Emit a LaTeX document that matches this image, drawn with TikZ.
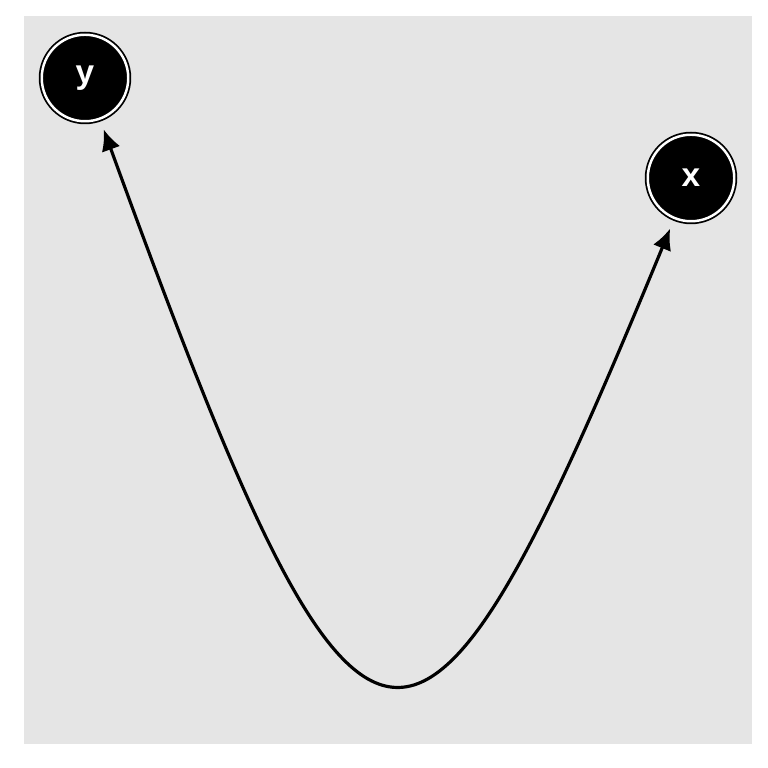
\documentclass[tikz,border=0pt]{standalone}
\usepackage{fontspec}
\setsansfont{Liberation Sans}
\usetikzlibrary{arrows.meta}
\tikzset{VertexStyle/.style = {
			shape          = circle,
			draw           = black,
			fill           = black,
			double         = white,
			double distance = 1.4pt,
			line width     = 1pt,
			text           = white,
			font           = \sffamily\bfseries\fontsize{19}{21}\selectfont,
			inner sep      = 0pt,
			outer sep      = 6.5pt,
			minimum size   = 17.3 mm}
			}
\tikzset{EdgeStyle/.style   = {line width=1.8pt, arrows={Latex[length=12pt,width=11pt]-Latex[length=12pt,width=11pt]}}}
\definecolor{bggray}{HTML}{E5E5E5}

\begin{document}
\begin{tikzpicture}
	\useasboundingbox (0,0) rectangle (15.36,15.36);
	\fill[bggray] (0.48,0.48) rectangle (15.04,15.04);

	\draw (1.7,13.8) node[VertexStyle] (Y) {y};
	\draw (13.82,11.8) node[VertexStyle] (X) {x};
	\coordinate (C1) at (7.32,-1.64);
	\coordinate (C2) at (8.28,-1.64);

	\draw[EdgeStyle] (Y) .. controls (C1) and (C2) .. (X);
\end{tikzpicture}
\end{document}
